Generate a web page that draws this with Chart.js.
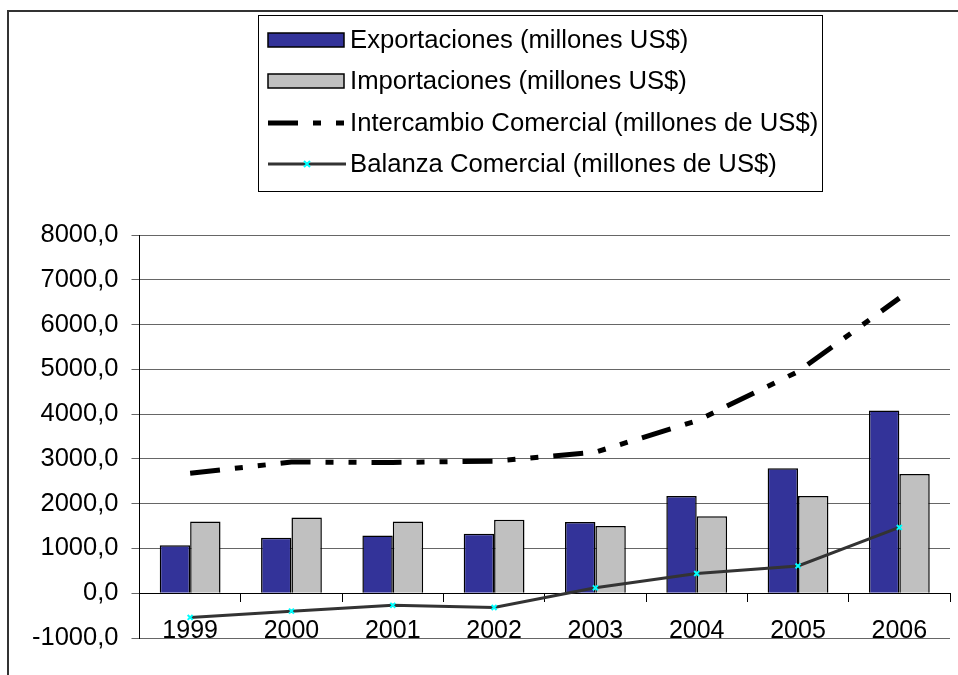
<!DOCTYPE html>
<html>
<head>
<meta charset="utf-8">
<script src="https://cdn.jsdelivr.net/npm/chart.js@4/dist/chart.umd.min.js"></script>
<style>
  html, body { margin: 0; padding: 0; background: #fff; }
  #wrap { width: 958px; height: 675px; }
</style>
</head>
<body>
<div id="wrap"><canvas id="grafico"></canvas></div>
<script>
var categorias = ['1999', '2000', '2001', '2002', '2003', '2004', '2005', '2006'];
var exportaciones = [1070, 1240, 1290, 1330, 1590, 2170, 2790, 4080];
var importaciones = [1600, 1690, 1600, 1640, 1500, 1720, 2170, 2660];
var intercambio = [2680, 2930, 2920, 2950, 3150, 3850, 4950, 6590];
var balanza = [-540, -400, -270, -320, 120, 440, 610, 1470];
var etiquetas = [
  'Exportaciones (millones US$)',
  'Importaciones (millones US$)',
  'Intercambio Comercial (millones de US$)',
  'Balanza Comercial (millones de US$)'
];

var fuente = "'Liberation Sans', Arial, sans-serif";
Chart.defaults.font.family = fuente;
Chart.defaults.color = '#000';

// marco exterior (solo arriba e izquierda, como en el recorte)
var marco = {
  id: 'marco',
  afterDraw: function (chart) {
    var ctx = chart.ctx;
    ctx.save();
    ctx.strokeStyle = '#333';
    ctx.lineWidth = 2;
    ctx.beginPath();
    ctx.moveTo(8, 676);
    ctx.lineTo(8, 11);
    ctx.lineTo(960, 11);
    ctx.stroke();
    ctx.restore();
  }
};

// leyenda en caja, una serie por fila
var leyenda = {
  id: 'leyenda',
  afterDraw: function (chart) {
    var ctx = chart.ctx;
    var ds = chart.data.datasets;
    var filas = [40, 81, 123, 164];
    ctx.save();
    ctx.fillStyle = '#fff';
    ctx.fillRect(258, 15, 564, 176);
    ctx.strokeStyle = '#000';
    ctx.lineWidth = 1;
    ctx.strokeRect(258.5, 15.5, 564, 176);
    ctx.font = '25.7px ' + fuente;
    ctx.textBaseline = 'middle';
    for (var i = 0; i < ds.length; i++) {
      var y = filas[i];
      if (ds[i].type === 'bar') {
        ctx.fillStyle = ds[i].backgroundColor;
        ctx.fillRect(268, y - 7, 76, 14);
        ctx.strokeStyle = '#000';
        ctx.lineWidth = 1.5;
        ctx.strokeRect(268, y - 7, 76, 14);
      } else {
        ctx.strokeStyle = ds[i].borderColor;
        ctx.lineWidth = ds[i].borderWidth;
        ctx.setLineDash(ds[i].borderDash || []);
        ctx.beginPath();
        ctx.moveTo(268, y);
        ctx.lineTo(346, y);
        ctx.stroke();
        ctx.setLineDash([]);
        if (ds[i].pointRadius) {
          ctx.strokeStyle = ds[i].pointBorderColor;
          ctx.lineWidth = 2;
          ctx.beginPath();
          ctx.moveTo(304, y - 3); ctx.lineTo(310, y + 3);
          ctx.moveTo(310, y - 3); ctx.lineTo(304, y + 3);
          ctx.stroke();
        }
      }
      ctx.fillStyle = '#000';
      ctx.fillText(etiquetas[i], 350, y + 1);
    }
    ctx.restore();
  }
};

new Chart(document.getElementById('grafico'), {
  type: 'bar',
  data: {
    labels: categorias,
    datasets: [
      {
        type: 'bar',
        label: etiquetas[0],
        data: exportaciones,
        backgroundColor: '#333399',
        borderColor: '#000',
        borderWidth: 1.5,
        order: 2
      },
      {
        type: 'bar',
        label: etiquetas[1],
        data: importaciones,
        backgroundColor: '#c0c0c0',
        borderColor: '#000',
        borderWidth: 1.5,
        order: 2
      },
      {
        type: 'line',
        label: etiquetas[2],
        data: intercambio,
        borderColor: '#000',
        borderWidth: 5,
        borderDash: [30, 15, 8, 15, 8, 15],
        borderCapStyle: 'butt',
        pointRadius: 0,
        fill: false,
        tension: 0,
        order: 1
      },
      {
        type: 'line',
        label: etiquetas[3],
        data: balanza,
        borderColor: '#333333',
        borderWidth: 3,
        pointStyle: 'crossRot',
        pointRadius: 3.5,
        pointBorderColor: '#00ffff',
        pointBorderWidth: 2,
        pointBackgroundColor: '#00ffff',
        fill: false,
        tension: 0,
        order: 0
      }
    ]
  },
  options: {
    responsive: true,
    maintainAspectRatio: false,
    animation: false,
    layout: { padding: { left: 19, right: 8, top: 235, bottom: 37 } },
    plugins: {
      legend: { display: false },
      tooltip: { enabled: false }
    },
    datasets: {
      bar: { categoryPercentage: 0.6, barPercentage: 1.0 }
    },
    scales: {
      x: {
        position: { y: 0 },
        grid: {
          display: true,
          drawOnChartArea: false,
          drawTicks: true,
          tickLength: 8,
          offset: true,
          color: '#000'
        },
        border: { display: true, color: '#000', width: 1 },
        ticks: {
          font: { size: 25 },
          color: '#000',
          padding: 15,
          maxRotation: 0
        }
      },
      y: {
        min: -1000,
        max: 8000,
        grid: {
          color: '#666',
          lineWidth: 1,
          tickLength: 8
        },
        border: { display: true, color: '#000', width: 1 },
        ticks: {
          stepSize: 1000,
          font: { size: 25.5 },
          color: '#000',
          padding: 13,
          callback: function (v) { return v.toFixed(1).replace('.', ','); }
        }
      }
    }
  },
  plugins: [marco, leyenda]
});
</script>
</body>
</html>
